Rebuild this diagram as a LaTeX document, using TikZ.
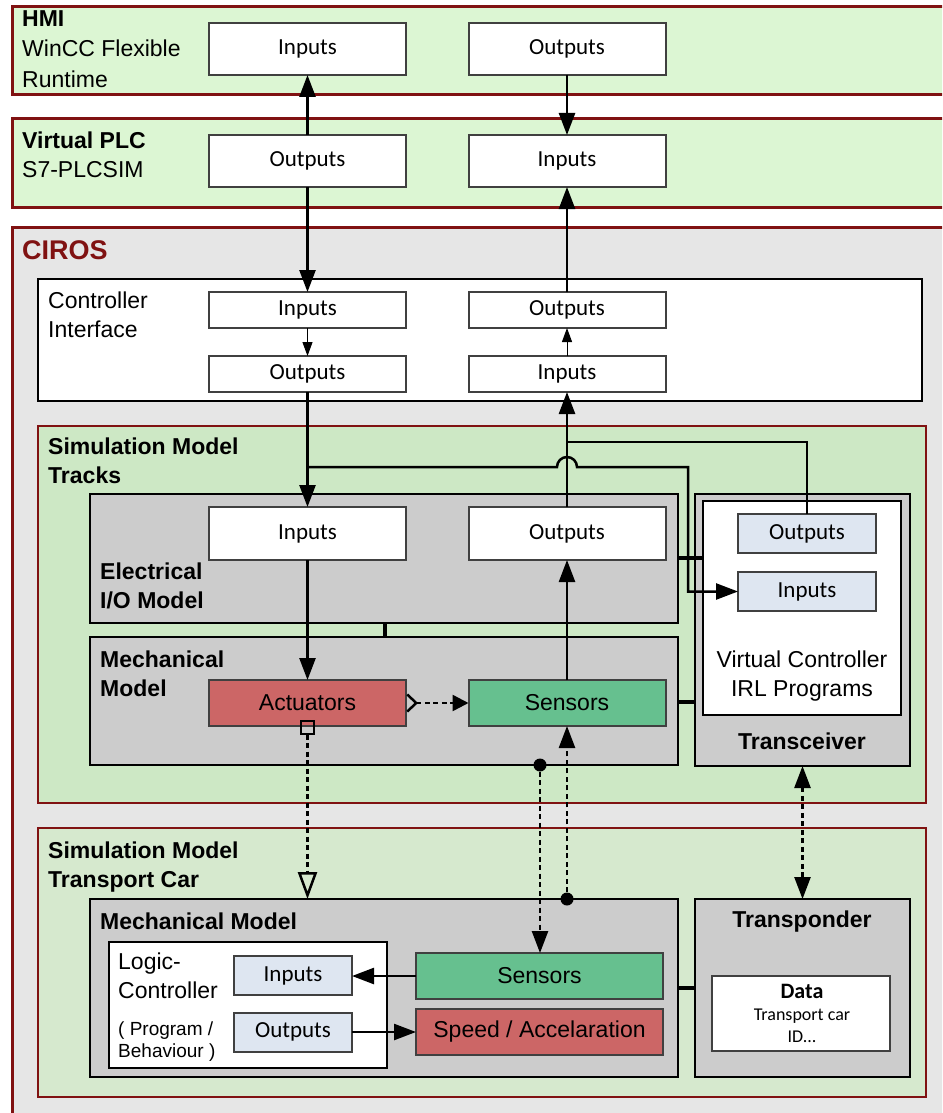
\documentclass[tikz,border=0pt]{standalone}
\usepackage{fontspec}
\setmainfont{Liberation Sans}
\newfontfamily\portfont{Carlito}
\usepackage{xcolor}
\usetikzlibrary{positioning, arrows.meta}
\definecolor{BandRed}{RGB}{128,18,18}
\definecolor{BandGreen}{RGB}{220,246,211}
\definecolor{CirosGray}{RGB}{230,230,230}
\definecolor{TrackGreen}{RGB}{205,232,197}
\definecolor{CarGreen}{RGB}{214,233,206}
\definecolor{ModGray}{RGB}{204,204,204}
\definecolor{PortEdge}{RGB}{64,64,64}
\definecolor{PortBlue}{RGB}{222,230,241}
\definecolor{ActRed}{RGB}{204,102,102}
\definecolor{SenGreen}{RGB}{102,192,143}
\newcommand\lblsize{\fontsize{23}{29}\selectfont}
\newcommand\smallsize{\fontsize{19}{22}\selectfont}
\tikzset{
  band/.style={draw=BandRed, line width=3pt, anchor=north west, inner sep=0pt, outer sep=0pt},
  group/.style={band, line width=2pt},
  module/.style={draw=black, line width=2.5pt, fill=ModGray, anchor=north west, inner sep=0pt, outer sep=0pt},
  panel/.style={module, fill=white},
  port/.style={draw=PortEdge, line width=2pt, fill=white, inner sep=0pt, outer sep=0pt,
    minimum width=197pt, font=\portfont\lblsize},
  vport/.style={port, fill=PortBlue, minimum width=138pt, minimum height=39pt},
  lport/.style={vport, minimum width=118pt},
  actbox/.style={port, fill=ActRed, font=\lblsize, minimum height=46pt},
  senbox/.style={port, fill=SenGreen, font=\lblsize, minimum height=46pt},
  lbl/.style={anchor=north west, inner sep=0pt, align=left, font=\lblsize},
  hlbl/.style={lbl, font=\lblsize\bfseries},
  clbl/.style={inner sep=0pt, align=center, font=\lblsize\bfseries},
  flow/.style={-{Triangle[length=22pt,width=16pt]}, line width=2.5pt},
  thinflow/.style={-{Triangle[length=14pt,width=10pt]}, line width=1pt},
  wire/.style={line width=2.5pt},
  link/.style={line width=4.5pt},
  dashflow/.style={flow, dash pattern=on 5pt off 3.5pt},
  dot/.style={circle, fill=black, inner sep=0pt, minimum size=13pt},
}

\begin{document}
\begin{tikzpicture}[x=1pt, y=-1pt]
  \useasboundingbox (0,0) rectangle (942,1113);
  \clip (0,0) rectangle (942,1113);
  % containers
  \node[band, fill=BandGreen, minimum width=950pt, minimum height=88pt] (hmi) at (12,7) {};
  \node[band, fill=BandGreen, minimum width=950pt, minimum height=88pt] (plc) at (12,119) {};
  \node[band, fill=CirosGray, minimum width=950pt, minimum height=900pt] (ciros) at (12,227) {};
  \node[panel, minimum width=884pt, minimum height=122pt] (ci) at (38,279) {};
  \node[group, fill=TrackGreen, minimum width=888pt, minimum height=377pt] (tracks) at (38,426) {};
  \node[group, fill=CarGreen, minimum width=888pt, minimum height=269pt] (car) at (38,828) {};
  \node[module, minimum width=588pt, minimum height=129pt] (elec) at (90,494) {};
  \node[module, minimum width=588pt, minimum height=128pt] (mechT) at (90,637) {};
  \node[module, minimum width=215pt, minimum height=272pt] (trans) at (695,494) {};
  \node[panel, minimum width=198pt, minimum height=214pt] (vc) at (703,501) {};
  \node[module, minimum width=588pt, minimum height=178pt] (mechC) at (90,899) {};
  \node[module, minimum width=215pt, minimum height=178pt] (transp) at (695,899) {};
  \node[panel, minimum width=278pt, minimum height=126pt] (logic) at (109,942) {};
  \node[panel, draw=PortEdge, line width=2pt, minimum width=178pt, minimum height=75pt] (data) at (712,976) {};

  % labels
  \node[lbl, font=\fontsize{23}{30.5}\selectfont] (hmiLbl) at (22,10) {\textbf{HMI}\\WinCC Flexible\\Runtime};
  \node[lbl] (plcLbl) at (22,132) {\textbf{Virtual PLC}\\S7-PLCSIM};
  \node[lbl, font=\fontsize{27}{30}\selectfont\bfseries, text=BandRed] (cirosLbl) at (22,240) {CIROS};
  \node[lbl] (ciLbl) at (48,292) {Controller\\Interface};
  \node[hlbl] (tracksLbl) at (48,438) {Simulation Model\\Tracks};
  \node[hlbl] (elecLbl) at (100,563) {Electrical\\I/O Model};
  \node[hlbl] (mechTLbl) at (100,651) {Mechanical\\Model};
  \node[clbl] (transLbl) at (802,741) {Transceiver};
  \node[clbl, font=\lblsize] (vcLbl) at (802,676) {Virtual Controller\\IRL Programs};
  \node[hlbl] (carLbl) at (48,842) {Simulation Model\\Transport Car};
  \node[hlbl] (mechCLbl) at (100,913) {Mechanical Model};
  \node[clbl] (transpLbl) at (802,922) {Transponder};
  \node[lbl] (logicLbl) at (118,953) {Logic-\\Controller};
  \node[lbl, font=\smallsize] (progLbl) at (118,1022) {( Program /\\Behaviour )};
  \node[clbl, font=\portfont\fontsize{18}{22}\selectfont] (dataLbl) at (802,1013)
    {{\fontsize{22}{22}\selectfont\bfseries Data}\\Transport car\\ID...};

  % ports
  \node[port, minimum height=52pt] (hmiIn) at (307.5,49) {Inputs};
  \node[port, minimum height=52pt] (hmiOut) at (567,49) {Outputs};
  \node[port, minimum height=52pt] (plcOut) at (307.5,161) {Outputs};
  \node[port, minimum height=52pt] (plcIn) at (567,161) {Inputs};
  \node[port, minimum height=36pt] (ciIn) at (307.5,310) {Inputs};
  \node[port, minimum height=36pt] (ciOut) at (567,310) {Outputs};
  \node[port, minimum height=36pt] (ciOutL) at (307.5,374) {Outputs};
  \node[port, minimum height=36pt] (ciInR) at (567,374) {Inputs};
  \node[port, minimum height=53pt] (elIn) at (307.5,533.5) {Inputs};
  \node[port, minimum height=53pt] (elOut) at (567,533.5) {Outputs};
  \node[actbox] (act) at (307.5,703) {Actuators};
  \node[senbox] (sen) at (567,703) {Sensors};
  \node[vport] (vcOut) at (807,533.5) {Outputs};
  \node[vport] (vcIn) at (807,591.5) {Inputs};
  \node[lport] (lcIn) at (293,975.5) {Inputs};
  \node[lport] (lcOut) at (293,1032) {Outputs};
  \node[senbox, minimum width=247pt] (carSen) at (539.5,976) {Sensors};
  \node[actbox, minimum width=247pt] (speed) at (539.5,1032) {Speed / Accelaration};

  \node[draw, line width=2pt, inner sep=0pt, minimum width=13pt, minimum height=13pt] (hinge) at (307.5,727) {};
  \node[dot] (dotT) at (540,765) {};
  \node[dot] (dotC) at (567,899) {};
  \coordinate (tapL) at (307.5,467);
  \coordinate (tapR) at (567,442);

  % signal flow
  \draw[flow] (plcOut.north) -- (hmiIn.south);
  \draw[flow] (hmiOut.south) -- (plcIn.north);
  \draw[flow] (plcOut.south) -- (ciIn.north);
  \draw[flow] (ciOut.north) -- (plcIn.south);
  \draw[thinflow] (ciIn.south) -- (ciOutL.north);
  \draw[thinflow] (ciInR.north) -- (ciOut.south);
  \draw[flow] (ciOutL.south) -- (elIn.north);
  \draw[flow] (elOut.north) -- (ciInR.south);
  \draw[flow] (tapL) -- (557,467) arc (180:360:10) -- (688,467) |- (vcIn.west);
  \draw[wire] (vcOut.north) |- (tapR);
  \draw[flow] (elIn.south) -- (act.north);
  \draw[flow] (sen.north) -- (elOut.south);
  \draw[dashflow, {Straight Barb[reversed,length=9pt,width=17pt,line width=2.5pt]}-{Triangle[length=16pt,width=16pt]}]
    (act.east) -- (sen.west);
  \draw[dashflow, -{Triangle[open,length=27pt,width=19pt]}] (hinge.south) -- (hinge.south |- mechC.north);
  \draw[dashflow] (dotT) -- (dotT |- carSen.north);
  \draw[dashflow] (dotC) -- (sen.south);
  \draw[dashflow, {Triangle[length=22pt,width=16pt]}-{Triangle[length=22pt,width=16pt]}] (trans.south) -- (transp.north);
  \draw[flow] (carSen.west) -- (carSen.west -| lcIn.east);
  \draw[flow] (lcOut.east) -- (lcOut.east -| speed.west);

  % couplings
  \draw[link] (elec.south -| 385,0) -- (mechT.north -| 385,0);
  \draw[link] (elec.east |- 0,558) -- (vc.west |- 0,558);
  \draw[link] (mechT.east |- 0,702) -- (trans.west |- 0,702);
  \draw[link] (mechC.east |- 0,988) -- (transp.west |- 0,988);
\end{tikzpicture}
\end{document}
